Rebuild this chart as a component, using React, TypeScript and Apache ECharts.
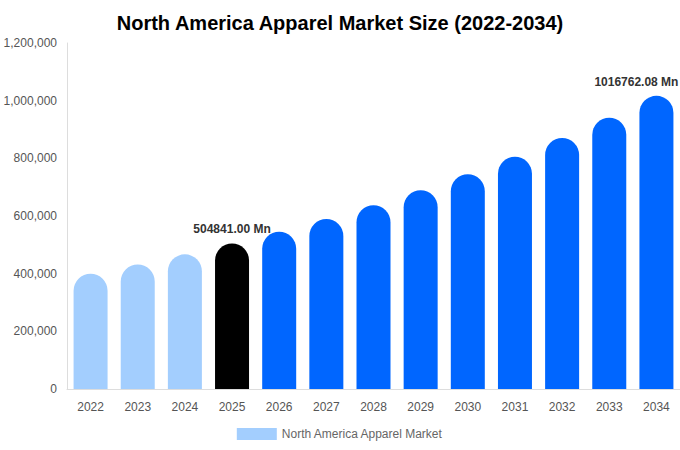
import React, { useEffect, useRef } from "react";
import * as echarts from "echarts";

const categories = ["2022", "2023", "2024", "2025", "2026", "2027", "2028", "2029", "2030", "2031", "2032", "2033", "2034"];
const values = [399700, 432000, 467000, 504841, 545700, 589900, 637600, 689200, 745000, 805300, 870500, 940900, 1016762.08];
const barColors = ["#a3cefe", "#a3cefe", "#a3cefe", "#000000", "#0066ff", "#0066ff", "#0066ff", "#0066ff", "#0066ff", "#0066ff", "#0066ff", "#0066ff", "#0066ff"];
const labelledYears = ["2025", "2034"];
const seriesName = "North America Apparel Market";
const titleText = "North America Apparel Market Size (2022-2034)";

export default function App() {
  const ref = useRef<HTMLDivElement>(null);
  useEffect(() => {
    document.body.style.margin = "0";
    if (!ref.current) return;
    const chart = echarts.init(ref.current, null, { renderer: "svg" });
    chart.setOption({
      animation: false,
      textStyle: { fontFamily: "Liberation Sans, Arial, sans-serif" },
      title: {
        text: titleText,
        left: "center",
        top: 8,
        textStyle: { fontSize: 20, fontWeight: "bold", color: "#000" },
      },
      legend: {
        data: [seriesName],
        bottom: 5,
        left: "center",
        itemWidth: 40,
        itemHeight: 12,
        icon: "rect",
        textStyle: { color: "#666", fontSize: 12 },
      },
      grid: { left: 67, right: 0, top: 43, bottom: 61, containLabel: false },
      xAxis: {
        type: "category",
        data: categories,
        axisTick: { show: false },
        axisLine: { lineStyle: { color: "#ddd" } },
        axisLabel: { color: "#555", fontSize: 12, margin: 12 },
      },
      yAxis: {
        type: "value",
        min: 0,
        max: 1200000,
        interval: 200000,
        axisLine: { show: true, lineStyle: { color: "#ddd" } },
        axisTick: { show: false },
        splitLine: { show: false },
        axisLabel: {
          color: "#555",
          fontSize: 12,
          margin: 10,
          formatter: (v: number) => v.toLocaleString("en-US"),
        },
      },
      series: [
        {
          name: seriesName,
          type: "bar",
          barWidth: 34,
          itemStyle: { color: "#a3cefe" },
          data: values.map((v, i) => ({
            value: v,
            itemStyle: { color: barColors[i], borderRadius: [17, 17, 0, 0] },
            label: {
              show: labelledYears.includes(categories[i]),
              position: "top",
              distance: 8,
              offset: i === values.length - 1 ? [-20, 0] : [0, 0],
              overflow: "none",
              fontWeight: "bold",
              fontSize: 12,
              color: "#333",
              formatter: (p: any) => Number(p.value).toFixed(2) + " Mn",
            },
          })),
        },
      ],
    });
    return () => chart.dispose();
  }, []);
  return <div ref={ref} style={{ width: 680, height: 450 }} />;
}
